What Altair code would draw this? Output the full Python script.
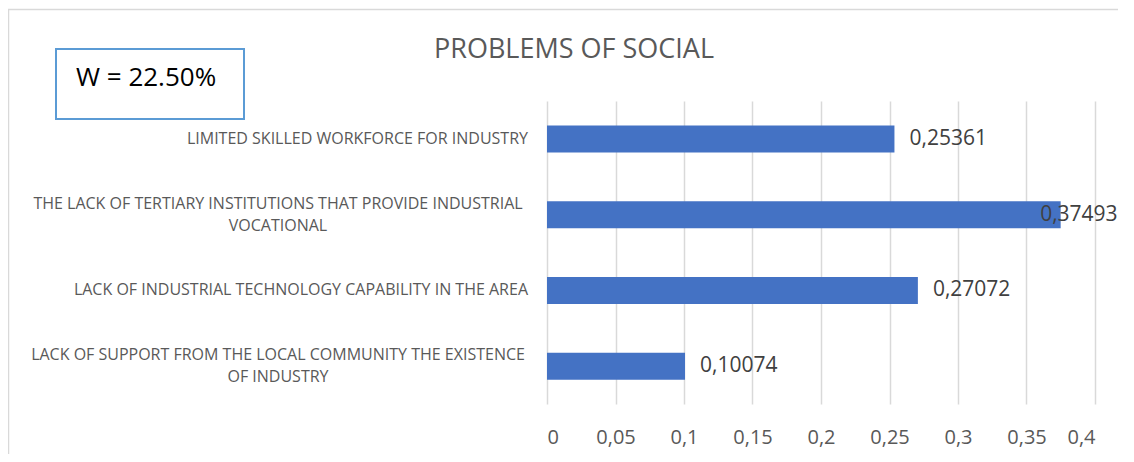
import altair as alt
import pandas as pd

# ---- data ----
CATEGORIES = [
    "LIMITED SKILLED WORKFORCE FOR INDUSTRY",
    "THE LACK OF TERTIARY INSTITUTIONS THAT PROVIDE INDUSTRIAL|VOCATIONAL",
    "LACK OF INDUSTRIAL TECHNOLOGY CAPABILITY IN THE AREA",
    "LACK OF SUPPORT FROM THE LOCAL COMMUNITY THE EXISTENCE|OF INDUSTRY",
]
VALUES = [0.25361, 0.37493, 0.27072, 0.10074]
VALUE_LABELS = ["0,25361", "0,37493", "0,27072", "0,10074"]
X_TICKS = [0, 0.05, 0.1, 0.15, 0.2, 0.25, 0.3, 0.35, 0.4]
TITLE = "PROBLEMS OF SOCIAL"
BOX_TEXT = "W = 22.50%"

# ---- style ----
FONT = "Open Sans"
BAR_COLOR = "#4472c4"
GRID = "#d9d9d9"
TXT = "#595959"
W, H = 548, 303
PAD = {"left": 539, "top": 93, "right": 23, "bottom": 50}
LABEL_MAX = 0.349  # data label kept inside the chart area (as Excel does)

df = pd.DataFrame({
    "cat": CATEGORIES,
    "value": VALUES,
    "vlabel": VALUE_LABELS,
    "nlines": [c.count("|") + 1 for c in CATEGORIES],
})

y_enc = alt.Y("cat:N", sort=CATEGORIES,
              scale=alt.Scale(paddingInner=0, paddingOuter=0),
              axis=None)

base = alt.Chart(df)

bars = base.mark_bar(color=BAR_COLOR, size=27).encode(
    x=alt.X("value:Q",
            scale=alt.Scale(domain=[0, 0.4], nice=False, zero=True),
            axis=alt.Axis(values=X_TICKS, title=None, domain=False, ticks=False,
                          grid=True, gridColor=GRID, gridWidth=1.5,
                          labelExpr="replace(format(datum.value, '~g'), '.', ',')",
                          labelFont=FONT, labelFontSize=20, labelColor=TXT,
                          labelPadding=23)),
    y=y_enc,
)

vlabels = base.transform_calculate(
    pos=f"min(datum.value, {LABEL_MAX})"
).mark_text(align="left", baseline="middle", dx=15, font=FONT, fontSize=21,
            color="#404040").encode(
    x="pos:Q", y=y_enc, text="vlabel:N")

ylab_single = base.transform_filter("datum.nlines == 1").mark_text(
    align="right", baseline="middle", font=FONT, fontSize=16, color=TXT,
    lineBreak="|").encode(x=alt.value(-19), y=y_enc, text="cat:N")

ylab_multi = base.transform_filter("datum.nlines > 1").mark_text(
    align="center", baseline="middle", font=FONT, fontSize=16, color=TXT,
    lineBreak="|", lineHeight=22, dy=-11).encode(x=alt.value(-269), y=y_enc, text="cat:N")

one = pd.DataFrame({"t": [TITLE], "b": [BOX_TEXT]})

frame = alt.Chart(one).mark_rect(fillOpacity=0, stroke=GRID, strokeWidth=1.5).encode(
    x=alt.value(-538.5), x2=alt.value(W + 200), y=alt.value(-91.5), y2=alt.value(H + 200))

title = alt.Chart(one).mark_text(align="center", baseline="middle", font=FONT,
                                 fontSize=27, color=TXT).encode(
    x=alt.value(27), y=alt.value(-51), text="t:N")

box = alt.Chart(one).mark_rect(fill="white", stroke="#5b9bd5", strokeWidth=2).encode(
    x=alt.value(-491), x2=alt.value(-303), y=alt.value(-52), y2=alt.value(18))

box_text = alt.Chart(one).mark_text(align="left", baseline="middle", font=FONT,
                                    fontSize=26, color="#000000").encode(
    x=alt.value(-471), y=alt.value(-23), text="b:N")

chart = alt.layer(frame, bars, vlabels, ylab_single, ylab_multi, title, box, box_text).properties(
    width=W, height=H, padding=PAD, autosize=alt.AutoSizeParams(type="none"),
    background="white",
).configure_view(stroke=None)

chart.save("out.html", embed_options={"renderer": "svg", "actions": False})
